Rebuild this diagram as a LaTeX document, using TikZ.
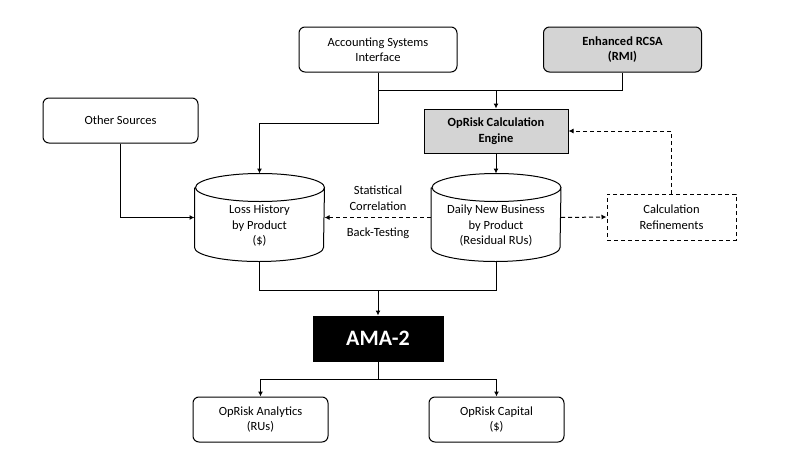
\documentclass[tikz,border=0pt]{standalone}
\usepackage{fontspec}
\setmainfont{Carlito}
\usetikzlibrary{arrows.meta}
\newcommand\boxfont{\fontsize{12.5}{15.5}\selectfont}
\newcommand\storefont{\fontsize{12.5}{17}\selectfont}
\newcommand\amafont{\fontsize{22}{26}\selectfont\bfseries}
\colorlet{enginegray}{black!17}
\begin{document}
\begin{tikzpicture}[x=1pt, y=1pt, line width=1pt,
    every node/.style={inner sep=0pt, text centered, align=center, font=\boxfont},
    source/.style={draw, rounded corners=6pt, minimum width=158pt, minimum height=45pt},
    outbox/.style={draw, rounded corners=6pt, minimum width=135pt, minimum height=45pt},
    engine/.style={draw, fill=enginegray, font=\boxfont\bfseries},
    store/.style={rectangle, minimum width=129pt, minimum height=87pt},
    refine/.style={draw, dash pattern=on 4pt off 3pt, minimum width=129pt, minimum height=46pt},
    link/.style={-{Latex[length=5pt,width=5pt]}},
    dlink/.style={link, dash pattern=on 4pt off 3pt}]
\useasboundingbox (0,0) rectangle (785,-474);

% inputs
\node [source] (asi) at (378,-49.5) {Accounting Systems\\Interface};
\node [source, engine, rounded corners=6pt] (rcsa) at (622.5,-49.5) {Enhanced RCSA\\(RMI)};
\node [source, minimum width=155pt] (other) at (120.5,-120.5) {Other Sources};
\node [engine, minimum width=144pt, minimum height=44pt] (engine) at (496,-131) {OpRisk Calculation\\Engine};

% data stores
\node [store] (loss) at (259.5,-217.5) {};
\node [store] (daily) at (496,-217.5) {};
\foreach \db in {loss,daily}
  \draw ([yshift=-14pt]\db.north west) -- ([yshift=14pt]\db.south west)
        arc[start angle=180, end angle=360, x radius=64.5pt, y radius=14pt]
        -- ([yshift=-14pt]\db.north east)
        arc[start angle=0, end angle=180, x radius=64.5pt, y radius=14pt]
        arc[start angle=180, end angle=360, x radius=64.5pt, y radius=14pt];
\node (losstext) at (259.5,-226) {\storefont Loss History\\by Product\\(\$)};
\node (dailytext) at (496,-226) {\storefont Daily New Business\\by Product\\(Residual RUs)};
\node [refine] (refine) at (671.5,-217) {Calculation\\Refinements};
\node (stat) at (378,-198) {Statistical\\Correlation};
\node (back) at (378,-233) {Back-Testing};

% outputs
\node [draw, fill=black, text=white, font=\amafont, minimum width=130pt, minimum height=45pt] (ama) at (378,-338.5) {AMA-2};
\node [outbox] (analytics) at (260.5,-419.5) {OpRisk Analytics\\(RUs)};
\node [outbox] (capital) at (496.5,-419.5) {OpRisk Capital\\(\$)};

% connectors
\path (asi.south) ++(0,-18) coordinate (split);
\path (loss.south) ++(0,-29) coordinate (merge);
\path (ama.south) ++(0,-18) coordinate (fork);
\draw [link] (asi.south) -- ++(0,-51) -| (loss.north);
\draw (split) -| (rcsa.south);
\draw [link] (engine.north |- split) -- (engine.north);
\draw [link] (other.south) |- (loss.west);
\draw [link] (engine.south) -- (daily.north);
\draw [dlink, {Latex[length=5pt,width=5pt]}-] (loss.east) -- (daily.west);
\draw [dlink] (daily.east) -- (refine.west);
\draw [dlink] (refine.north) |- (engine.east);
\draw (loss.south) -- (merge) -| (daily.south);
\draw [link] (merge -| ama.north) -- (ama.north);
\draw (ama.south) -- (fork);
\draw [link] (fork) -| (analytics.north);
\draw [link] (fork) -| (capital.north);
\end{tikzpicture}
\end{document}
